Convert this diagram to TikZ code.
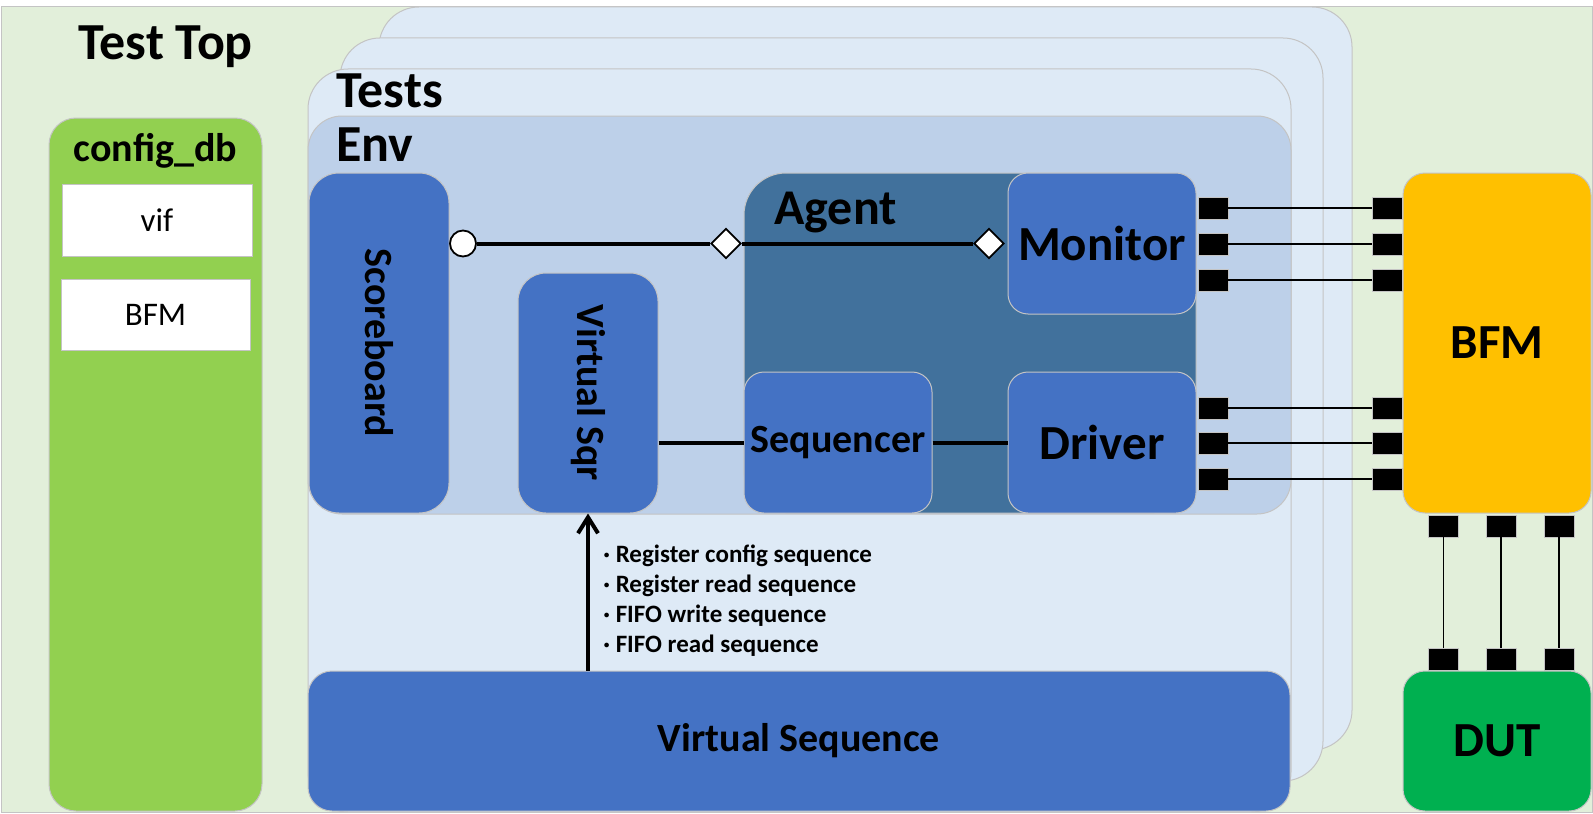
\documentclass[tikz,border=0pt]{standalone}
\usepackage{fontspec}
\setmainfont{Carlito}
\usetikzlibrary{shapes.geometric,arrows.meta}

\definecolor{topgreen}{HTML}{E2EFDA}
\definecolor{dbgreen}{HTML}{92D050}
\definecolor{testblue}{HTML}{DEEAF6}
\definecolor{envblue}{HTML}{BDD0E9}
\definecolor{blkblue}{HTML}{4472C4}
\definecolor{agtblue}{HTML}{41719C}
\definecolor{bfmorange}{HTML}{FFC000}
\definecolor{dutgreen}{HTML}{00B050}
\definecolor{edgegray}{HTML}{C4C4C4}

\newcommand{\hdrfont}{\fontsize{26}{31}\selectfont\bfseries}
\newcommand{\ttlfont}{\fontsize{24.5}{29}\selectfont\bfseries}
\newcommand{\boxfont}{\fontsize{20}{24}\selectfont\bfseries}
\newcommand{\cfgfont}{\fontsize{16.5}{20}\selectfont}
\newcommand{\notefont}{\fontsize{12.5}{15}\selectfont\bfseries}

\tikzset{
  frame/.style={draw=edgegray, line width=0.5pt, inner sep=0pt},
  layer/.style={frame, fill=testblue, rounded corners=20pt, minimum width=491.5pt, minimum height=371.5pt},
  blk/.style={frame, fill=blkblue, rounded corners=10pt, font=\ttlfont},
  pad/.style={draw=edgegray, line width=0.3pt, fill=black, minimum width=15pt, minimum height=11pt, inner sep=0pt},
  port/.style={draw, fill=white, line width=0.9pt, inner sep=0pt},
  wire/.style={line width=0.6pt},
  link/.style={line width=2pt},
  title/.style={anchor=base west, inner sep=0pt, font=\hdrfont},
}

\begin{document}
\begin{tikzpicture}[x=0.5pt,y=-0.5pt]
\useasboundingbox (0,0) rectangle (1593,813);

% test top
\node[frame, fill=topgreen, minimum width=795.5pt, minimum height=402.5pt] (top) at (796.5,409.5) {};
\node[title] (toplbl) at (78,60) {Test Top};

% stacked tests
\node[layer, minimum width=486.5pt] (testc) at (865.5,378.5) {};
\node[layer] (testb) at (831.5,409.5) {};
\node[layer] (testa) at (799.5,440.5) {};
\node[title] (testlbl) at (336,107) {Tests};

% env
\node[frame, fill=envblue, rounded corners=17pt, minimum width=491.5pt, minimum height=199pt] (env) at (799.5,315) {};
\node[title] (envlbl) at (336,161) {Env};

% config_db
\node[frame, fill=dbgreen, rounded corners=13.5pt, minimum width=106.5pt, minimum height=346.5pt] (cfg) at (155.5,464.5) {};
\node[title, anchor=base, font=\boxfont] (cfglbl) at (155.5,161) {config\_db};
\node[frame, fill=white, minimum width=95pt, minimum height=36pt, font=\cfgfont] (vif) at (157,220) {vif};
\node[frame, fill=white, minimum width=94.5pt, minimum height=35.5pt, font=\cfgfont] (bfmcfg) at (155.5,314.5) {BFM};

% agent
\node[frame, fill=agtblue, rounded corners=21pt, minimum width=226pt, minimum height=170pt] (agent) at (970,343) {};
\node[title, font=\fontsize{25}{30}\selectfont\bfseries] (agtlbl) at (774,224) {Agent};

% blocks
\node[blk, rotate=-90, minimum width=170pt, minimum height=70pt, rounded corners=15pt, font=\boxfont] (sb) at (379,343) {Scoreboard};
\node[blk, rotate=-90, minimum width=120pt, minimum height=70pt, rounded corners=14pt, font=\boxfont] (vsqr) at (588,393) {Virtual Sqr};
\node[blk, minimum width=94pt, minimum height=70.5pt] (mon) at (1102,243.5) {Monitor};
\node[blk, minimum width=94pt, minimum height=70.5pt] (drv) at (1102,442.5) {Driver};
\node[blk, minimum width=94pt, minimum height=70.5pt, font=\boxfont] (sqr) at (838,442.5) {Sequencer};

% analysis ports
\node[port, circle, minimum size=13pt] (sbport) at (463,243.5) {};
\node[port, diamond, minimum width=15pt, minimum height=15pt] (agtport) at (726,243.5) {};
\node[port, diamond, minimum width=15pt, minimum height=15pt] (monport) at (989,243.5) {};
\draw[link] (sbport) -- (agtport) -- (monport);
\draw[link] (vsqr.north |- sqr) -- (sqr);
\draw[link] (sqr) -- (drv);

% pins to bfm
\foreach \y in {208,244,280,408,443,479} {
  \node[pad] (l\y) at (1213,\y) {};
  \node[pad] (r\y) at (1387,\y) {};
  \draw[wire] (l\y) -- (r\y);
}
\foreach \x [count=\i] in {1443.5,1501,1559} {
  \node[pad] (u\i) at (\x,526) {};
  \node[pad] (d\i) at (\x,659) {};
  \draw[wire] (u\i) -- (d\i);
}

\node[frame, fill=bfmorange, rounded corners=11pt, minimum width=94pt, minimum height=170pt, font=\ttlfont] (bfm) at (1497,343) {BFM};
\node[frame, fill=dutgreen, rounded corners=11pt, minimum width=94pt, minimum height=70pt, font=\ttlfont] (dut) at (1497,741) {DUT};

% virtual sequence
\node[blk, rounded corners=12pt, minimum width=491pt, minimum height=70pt, font=\boxfont] (vseq) at (799,741) {Virtual Sequence};
\draw[link, -{Straight Barb[length=8pt,width=10pt]}] (vseq.north -| vsqr) -- (vsqr.east);

\foreach \t [count=\i] in {Register config sequence, Register read sequence, FIFO write sequence, FIFO read sequence}
  \node[anchor=base west, inner sep=0pt, font=\notefont] (note\i) at (603,532+30*\i) {· \t};

\end{tikzpicture}
\end{document}
